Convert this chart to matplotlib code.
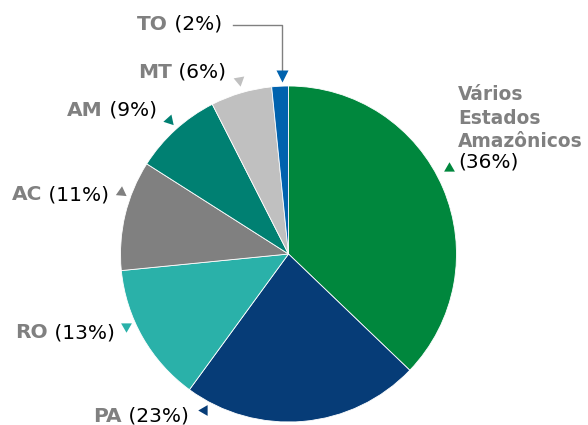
import matplotlib.pyplot as plt

# data
states = ["Vários\nEstados\nAmazônicos", "PA", "RO", "AC", "AM", "MT", "TO"]
label_pct = [36, 23, 13, 11, 9, 6, 2]             # percentages printed on the chart
slice_size = [37.2, 22.9, 13.4, 10.6, 8.5, 5.9, 1.6]  # slice sizes as drawn
colors = ["#00873D", "#063C77", "#2AB1A9", "#808080", "#008072", "#C0C0C0", "#0062AE"]

W, H = 588, 425
CX, CY, R = 288.5, 254, 168


def px(x, y):
    # pixel position of the reference -> data coords (pie radius = 1)
    return (x - CX) / R, (CY - y) / R


fig = plt.figure(figsize=(W / 100, H / 100), dpi=100)
ax = fig.add_axes([0, 0, 1, 1])

ax.pie(slice_size, colors=colors, startangle=90, counterclock=False, radius=1,
       wedgeprops=dict(edgecolor="white", linewidth=0.6))

ax.set_aspect("auto")
ax.set_xlim(px(0, 0)[0], px(W, 0)[0])
ax.set_ylim(px(0, H)[1], px(0, 0)[1])
ax.axis("off")

# label layout: text left/center (px), marker position (px), marker angle
layout = {
    "PA": ((93, 416), (204, 410), 90),
    "RO": ((15, 333), (126, 326), 180),
    "AC": ((12, 195), (121, 192), -5),
    "AM": ((67, 110), (169, 120), 222),
    "MT": ((138, 72), (239, 80), 190),
    "TO": ((137, 24), None, 0),
}

fs = 14.5
gray = "#808080"
for name, pct, col in zip(states, label_pct, colors):
    if name in layout:
        (tx, ty), mpos, ang = layout[name]
        t = ax.text(*px(tx, ty), name, fontsize=fs, fontweight="bold",
                    color=gray, ha="left", va="center")
        ax.annotate(f" ({pct}%)", xy=(1, 0.5), xycoords=t, fontsize=fs,
                    color="black", ha="left", va="center")
        if mpos is not None:
            ax.plot(*px(*mpos), marker=(3, 0, ang), ms=9, color=col, mec="none")
    else:
        t = ax.text(*px(458, 85), name, fontsize=13.4, fontweight="bold",
                    color=gray, ha="left", va="top", linespacing=1.3)
        ax.annotate(f"({pct}%)", xy=(0, 0), xycoords=t, xytext=(0, -1),
                    textcoords="offset points", fontsize=fs, color="black",
                    ha="left", va="top")
        ax.plot(*px(449, 168), marker=(3, 0, 0), ms=9, color=col, mec="none")

# leader line for TO
lx = [px(233, 25)[0], px(282, 25)[0], px(282, 72)[0]]
ly = [px(233, 25)[1], px(282, 25)[1], px(282, 72)[1]]
ax.plot(lx, ly, color=gray, lw=1)
ax.plot(*px(282, 76), marker="v", ms=9, color=colors[-1], mec="none")

fig.savefig("out.png", dpi=100)
